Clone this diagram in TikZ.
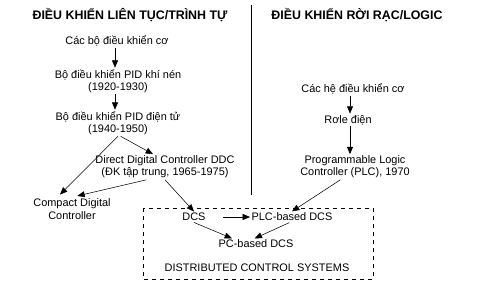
\documentclass[tikz,border=0pt]{standalone}
\usepackage{fontspec}
\setmainfont{Liberation Sans}
\usetikzlibrary{arrows.meta}

\tikzset{
  box/.style={font=\fontsize{8.2}{9.2}\selectfont, align=center, inner sep=1pt},
  head/.style={font=\bfseries\fontsize{9.3}{11}\selectfont, inner sep=1pt},
  arr/.style={-{Triangle[length=5.5pt,width=4.5pt]}, thin},
}

\begin{document}
\begin{tikzpicture}[x=0.75pt,y=-0.75pt]
\useasboundingbox (0,0) rectangle (481,289);
% headings
\node[head] (hleft) at (130,15) {ĐIỀU KHIỂN LIÊN TỤC/TRÌNH TỰ};
\node[head] (hright) at (357,15) {ĐIỀU KHIỂN RỜI RẠC/LOGIC};
\draw (251,5) -- (251,195);
% continuous control
\node[box] (mech) at (117,41) {Các bộ điều khiển cơ};
\node[box] (pneu) at (118,81) {Bộ điều khiển PID khí nén\\(1920-1930)};
\node[box] (elec) at (118,123) {Bộ điều khiển PID điện tử\\(1940-1950)};
\node[box] (ddc) at (165,167) {Direct Digital Controller DDC\\(ĐK tập trung, 1965-1975)};
\node[box] (compact) at (72,209) {Compact Digital\\Controller};
% discrete control
\node[box] (relmech) at (353,89) {Các hệ điều khiển cơ};
\node[box] (relay) at (348,120) {Rơle điện};
\node[box] (plc) at (355,167) {Programmable Logic\\Controller (PLC), 1970};
% distributed systems
\draw[dashed] (143,208) rectangle (373,279);
\node[box] (dcs) at (194,217) {DCS};
\node[box] (plcdcs) at (292,217) {PLC-based DCS};
\node[box] (pcdcs) at (256,244) {PC-based DCS};
\node[box] (dist) at (257,268) {DISTRIBUTED CONTROL SYSTEMS};
% connectors
\draw[arr] (mech.south -| 115,0) -- (pneu.north -| 115,0);
\draw[arr] (pneu.south -| 115,0) -- (elec.north -| 115,0);
\draw[arr] (elec.south) -- ([xshift=-9pt,yshift=2pt]compact.north);
\draw[arr] ([xshift=2pt]elec.south) -- ([xshift=-9pt]ddc.north);
\draw[arr] ([xshift=-14pt]ddc.south) -- ([xshift=4pt,yshift=1pt]compact.north);
\draw[arr] (ddc.south) -- (dcs.north);
\draw[arr] (relmech.south -| 350,0) -- (relay.north -| 350,0);
\draw[arr] (relay.south -| 350,0) -- (plc.north -| 350,0);
\draw[arr] ([xshift=-11pt]plc.south) -- (plcdcs.north);
\draw[arr] ([xshift=12pt]dcs.east) -- (plcdcs.west);
\draw[arr] (dcs.south) -- ([xshift=-18pt]pcdcs.north);
\draw[arr] ([xshift=-2pt]plcdcs.south) -- ([xshift=-1pt]pcdcs.north);
\end{tikzpicture}
\end{document}
